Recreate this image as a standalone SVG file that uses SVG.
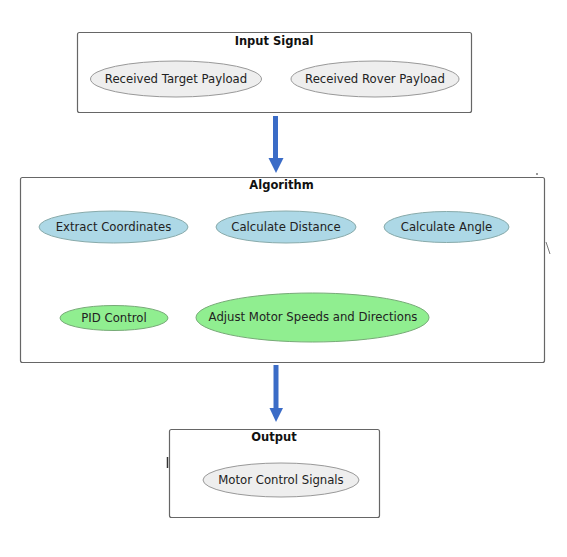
<svg xmlns="http://www.w3.org/2000/svg" width="567" height="557" viewBox="0 0 567 557">
<style>
.box{fill:#fff;stroke:#666;stroke-width:1.2}
.title{font-family:"DejaVu Sans",sans-serif;font-size:11.5px;font-weight:bold;fill:#111;text-anchor:middle}
.lbl{font-family:"DejaVu Sans",sans-serif;font-size:11.7px;fill:#222;text-anchor:middle;dominant-baseline:central}
.grey{fill:#eeeeee;stroke:#999;stroke-width:1}
.blue{fill:#add8e6;stroke:#8aa;stroke-width:1}
.green{fill:#90ee90;stroke:#7a7;stroke-width:1}
.arr{stroke:#3b6cc7;stroke-width:5;fill:none}
.head{fill:#3b6cc7}
</style>
<rect width="567" height="557" fill="#fff"/>
<g id="input-signal">
<rect class="box" x="77.5" y="32.5" width="394" height="80" rx="2"/>
<text class="title" x="274" y="45">Input Signal</text>
</g>
<g id="received-target-payload">
<ellipse class="grey" cx="176" cy="79" rx="85.5" ry="18"/>
<text class="lbl" x="176" y="79">Received Target Payload</text>
</g>
<g id="received-rover-payload">
<ellipse class="grey" cx="375" cy="79" rx="84" ry="18"/>
<text class="lbl" x="375" y="79">Received Rover Payload</text>
</g>
<g id="algorithm">
<rect class="box" x="20.5" y="177.5" width="524" height="185" rx="2"/>
<text class="title" x="281.5" y="188.5">Algorithm</text>
</g>
<g id="extract-coordinates">
<ellipse class="blue" cx="113.5" cy="227" rx="74.5" ry="16"/>
<text class="lbl" x="113.5" y="227">Extract Coordinates</text>
</g>
<g id="calculate-distance">
<ellipse class="blue" cx="286" cy="227" rx="70" ry="16"/>
<text class="lbl" x="286" y="227">Calculate Distance</text>
</g>
<g id="calculate-angle">
<ellipse class="blue" cx="446.5" cy="227" rx="62.5" ry="15.5"/>
<text class="lbl" x="446.5" y="227">Calculate Angle</text>
</g>
<g id="pid-control">
<ellipse class="green" cx="114" cy="318" rx="54" ry="12.5"/>
<text class="lbl" x="114" y="318">PID Control</text>
</g>
<g id="adjust-motor">
<ellipse class="green" cx="312.5" cy="317.5" rx="116.5" ry="24.5"/>
<text class="lbl" x="313" y="317">Adjust Motor Speeds and Directions</text>
</g>
<g id="output">
<rect class="box" x="169.5" y="429.5" width="210" height="88" rx="2"/>
<text class="title" x="274" y="441">Output</text>
</g>
<g id="motor-control-signals">
<ellipse class="grey" cx="281" cy="480" rx="78" ry="17"/>
<text class="lbl" x="281" y="480">Motor Control Signals</text>
</g>
<g id="connectors">
<line class="arr" x1="275.5" y1="116" x2="275.5" y2="159"/>
<polygon class="head" points="268.5,158 283.5,158 276,173"/>
<line class="arr" x1="276" y1="365" x2="276" y2="409"/>
<polygon class="head" points="269.5,408 283,408 276,422"/>
</g>
<g id="marks" stroke="#777" fill="none">
<line x1="537" y1="173" x2="537" y2="175" stroke-width="1.5"/>
<line x1="546" y1="242" x2="550" y2="254" stroke-width="1"/>
<line x1="167.5" y1="457" x2="167.5" y2="468" stroke="#333" stroke-width="1.5"/>
</g>
</svg>
